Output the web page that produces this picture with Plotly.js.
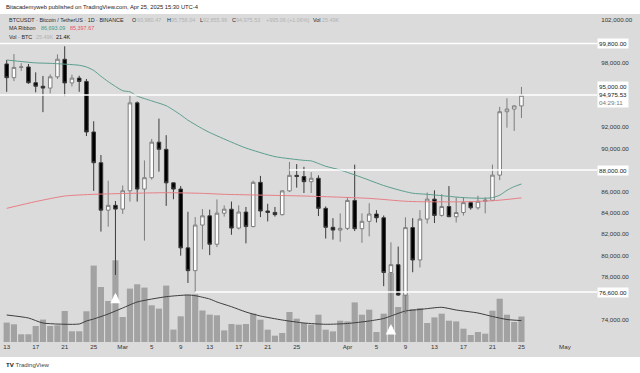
<!DOCTYPE html>
<html><head><meta charset="utf-8">
<script src="https://cdn.plot.ly/plotly-3.0.1.min.js"></script>
<style>html,body{margin:0;padding:0;background:#fff}#c{width:640px;height:373px}</style>
</head><body><div id="c"></div>
<script>
const dates = ["2025-02-13","2025-02-14","2025-02-15","2025-02-16","2025-02-17","2025-02-18","2025-02-19","2025-02-20","2025-02-21","2025-02-22","2025-02-23","2025-02-24","2025-02-25","2025-02-26","2025-02-27","2025-02-28",
"2025-03-01","2025-03-02","2025-03-03","2025-03-04","2025-03-05","2025-03-06","2025-03-07","2025-03-08","2025-03-09","2025-03-10","2025-03-11","2025-03-12","2025-03-13","2025-03-14","2025-03-15","2025-03-16","2025-03-17","2025-03-18","2025-03-19","2025-03-20","2025-03-21","2025-03-22","2025-03-23","2025-03-24","2025-03-25","2025-03-26","2025-03-27","2025-03-28","2025-03-29","2025-03-30","2025-03-31",
"2025-04-01","2025-04-02","2025-04-03","2025-04-04","2025-04-05","2025-04-06","2025-04-07","2025-04-08","2025-04-09","2025-04-10","2025-04-11","2025-04-12","2025-04-13","2025-04-14","2025-04-15","2025-04-16","2025-04-17","2025-04-18","2025-04-19","2025-04-20","2025-04-21","2025-04-22","2025-04-23","2025-04-24","2025-04-25"];

const openP = [97900,96620,97580,97620,96150,95820,95650,96700,98340,96130,96580,96270,91550,88680,84250,84700,
84350,86060,94270,86220,87280,90600,89930,86800,86220,80730,78600,82860,83720,81070,83970,84340,82580,84075,82720,86850,84170,84040,83830,86050,87500,87390,86910,87230,84420,82650,82390,
82550,85160,82520,83210,83890,83540,78430,79160,76320,82620,79600,83420,85280,83760,84590,83640,84030,84950,84470,85080,85180,87520,93440,93690,93980.47];
const highP = [98270,98830,97980,97900,97120,96780,96930,98800,99550,96900,96800,96500,92550,89400,87000,85100,
86550,95000,94400,88900,90900,92800,91250,86850,86500,84100,83600,84350,84300,85250,84700,85050,84700,84550,87000,87450,84850,84550,86100,88750,88550,88300,87800,87500,84600,83500,83950,
85450,88500,83950,84900,84250,83750,81250,80850,83585,83500,84250,85900,86100,85750,86500,85450,85450,85100,85600,85450,88500,93900,94700,94050,95758.04];
const lowP = [95300,96300,97250,96050,95250,93400,95150,96500,94900,95800,95300,91170,86050,82250,82700,78200,
83900,85050,85050,81400,87100,87850,84650,85270,80000,77450,76600,80600,80050,80800,83650,81950,82450,81150,82650,83600,83200,83650,83750,85950,86350,85850,85850,83700,81600,81500,81300,
82400,82300,81200,81800,83100,77150,74500,76240,74600,78450,78900,83000,83050,83650,83600,83100,83750,84300,84300,83950,85100,87050,91950,91650,92855.96];
const closeP = [96620,97580,97620,96150,95820,95650,96700,98340,96130,96580,96270,91550,88680,84250,84700,84350,
86060,94270,86220,87280,90600,89930,86800,86220,80730,78600,82860,83720,81070,83970,84340,82580,84075,82720,86850,84170,84040,83830,86050,87500,87390,86910,87230,84420,82650,82390,82550,
85160,82520,83210,83890,83540,78430,79160,76320,82620,79600,83420,85280,83760,84590,83640,84030,84950,84470,85080,85180,87520,93440,93690,93980.47,94975.53];
// volume, thousands of BTC
const volumeK = [19.4,17.7,7.7,7.7,16,22.4,16,16.7,31,10.7,10.7,30.7,76.4,55,41,81.7,
25,53.4,57.7,54.4,36.7,33.4,56.4,12.4,25.7,47.4,47.7,31.5,27.4,26.7,11.6,18,17.3,18,28.3,22.3,12.3,6.3,9,30,23.3,19,17.3,27.3,12.3,10.6,21.3,
20.6,39.6,27.3,32.3,10,28.3,69,35,47,33,34,19,24.6,28.3,21.3,20.6,13.3,7,10,8.3,31.3,43.3,27.3,20,25.49];

const volMADates = ["2025-02-13","2025-02-16","2025-02-18","2025-02-23","2025-02-24","2025-02-25","2025-02-27","2025-02-28","2025-03-01","2025-03-03","2025-03-07","2025-03-10","2025-03-11","2025-03-13","2025-03-14","2025-03-16","2025-03-18","2025-03-20","2025-03-23","2025-03-26","2025-03-29","2025-04-01","2025-04-04","2025-04-06","2025-04-07","2025-04-09","2025-04-11","2025-04-14","2025-04-16","2025-04-19","2025-04-21","2025-04-23","2025-04-25"];
const volMAK = [27,24,19,18,21,23,28,31,34,40,45.3,47,46.3,43,40,35.3,30,26,22,19,17.7,18.5,21,23.5,26,31,32.5,34.7,32,29,25.5,22.5,21.4];

const maFastDates = ["2025-02-13","2025-02-17","2025-02-19","2025-02-23","2025-02-24","2025-02-25","2025-02-26","2025-02-27","2025-02-28","2025-03-01","2025-03-02","2025-03-03","2025-03-05","2025-03-07","2025-03-09","2025-03-10","2025-03-12","2025-03-13","2025-03-16","2025-03-18","2025-03-22","2025-03-26","2025-03-27","2025-03-29","2025-03-31","2025-04-03","2025-04-06","2025-04-08","2025-04-10","2025-04-12","2025-04-17","2025-04-20","2025-04-21","2025-04-22","2025-04-23","2025-04-24","2025-04-25"];
const maFast = [98270,98000,97960,97780,97620,97300,96750,96250,95800,95400,95300,94900,94450,94000,93150,92650,91850,91500,90600,90050,89250,88900,88850,88350,88000,87300,86550,86150,85830,85730,85420,85360,85420,85650,86100,86450,86693.09];

const maSlowDates = ["2025-02-13","2025-02-17","2025-02-21","2025-02-25","2025-03-02","2025-03-07","2025-03-12","2025-03-15","2025-03-26","2025-04-04","2025-04-09","2025-04-11","2025-04-17","2025-04-21","2025-04-23","2025-04-25"];
const maSlow = [84420,85050,85570,85730,85820,85880,85820,85730,85570,85350,85080,85040,85030,85130,85250,85397.67];

const priceTicks = [74000,78000,80000,82000,84000,86000,90000,92000,98000,102000];
const dateTicks = ["2025-02-13","2025-02-17","2025-02-21","2025-02-25","2025-03-01","2025-03-05","2025-03-09","2025-03-13","2025-03-17","2025-03-21","2025-03-25","2025-04-01","2025-04-05","2025-04-09","2025-04-13","2025-04-17","2025-04-21","2025-04-25","2025-05-01"];
const dateTickText = ["13","17","21","25","Mar","5","9","13","17","21","25","Apr","5","9","13","17","21","25","May"];

const levelLines = [99800, 95000, 88000, 76600];
const levelStarts = ["2025-02-12","2025-02-12","2025-03-24","2025-03-11"];
const arrowDates = ["2025-02-28","2025-04-07"];
const arrowTops = [76550, 73620];

// legend texts: [text, colour, x pixel]
const legendRow1 = [["BTCUSDT · Bitcoin / TetherUS · 1D · BINANCE","#2a2a2a",8],["O","#2a2a2a",131],["93,980.47","#b2b2b2",135.5],
  ["H","#2a2a2a",166],["95,758.04","#b2b2b2",170],["L","#2a2a2a",199],["92,855.96","#b2b2b2",202],
  ["C","#2a2a2a",231],["94,975.53","#b2b2b2",235],["+995.06 (+1.06%)","#b2b2b2",265],["Vol","#2a2a2a",312],["25.49K","#b2b2b2",321]];
const legendRow2 = [["MA Ribbon","#2a2a2a",8],["86,693.09","#3f9a86",40],["85,397.67","#e8505e",69]];
const legendRow3 = [["Vol · BTC","#2a2a2a",8],["25.49K","#b2b2b2",35],["21.4K","#111111",55]];

const FONT = "Liberation Sans, Arial, sans-serif";
const BG = "#dbdbdb";
const PW = 597;
const xStart = "2025-02-12 01:49", xEnd = "2025-05-05 10:05";

const traces = [
  {type:"bar", x:dates, y:volumeK, yaxis:"y", marker:{color:"#a2a2a2", line:{width:0}}, width:0.85*86400000, hoverinfo:"skip"},
  {type:"scatter", mode:"lines", x:volMADates, y:volMAK, yaxis:"y", line:{color:"#3d3d3d", width:1, shape:"spline", smoothing:0.6}, hoverinfo:"skip"},
  {type:"candlestick", x:dates, open:openP, high:highP, low:lowP, close:closeP, yaxis:"y2",
    increasing:{fillcolor:"#ffffff", line:{color:"#7d7d7d", width:1}},
    decreasing:{fillcolor:"#000000", line:{color:"#3a3a3a", width:1}}, whiskerwidth:0, hoverinfo:"skip"},
  {type:"scatter", mode:"lines", x:maFastDates, y:maFast, yaxis:"y2", line:{color:"#5c9e8e", width:1, shape:"spline", smoothing:0.6}, hoverinfo:"skip"},
  {type:"scatter", mode:"lines", x:maSlowDates, y:maSlow, yaxis:"y2", line:{color:"#e87f86", width:1, shape:"spline", smoothing:0.6}, hoverinfo:"skip"}
];

const shapes = [
  {type:"rect", xref:"paper", yref:"paper", x0:-0.02, x1:1.1, y0:1, y1:1.06, fillcolor:"#ffffff", line:{width:0}, layer:"below"},
  {type:"rect", xref:"paper", yref:"paper", x0:-0.02, x1:1.1, y0:-0.11, y1:-0.0457, fillcolor:"#ffffff", line:{width:0}, layer:"below"}
];
levelLines.forEach((v,i)=>{
  shapes.push({type:"line", xref:"x", yref:"y2", x0:levelStarts[i], x1:xEnd, y0:v, y1:v, line:{color:"#ffffff", width:1.5}, layer:"above"});
});

const sp = (c,t)=>`<span style="color:${c}">${t}</span>`;
const annotations = [
  {xref:"paper", yref:"paper", x:4/PW, y:1.0223, xanchor:"left", yanchor:"middle", showarrow:false,
   text:"Bitacademyweb published on TradingView.com, Apr 25, 2025 15:30 UTC-4", font:{family:FONT, size:5.8, color:"#222"}},
  {xref:"paper", yref:"paper", x:4/PW, y:-0.0701, xanchor:"left", yanchor:"middle", showarrow:false,
   text:"<b>TV</b> "+sp("#444","TradingView"), font:{family:FONT, size:6.1, color:"#111"}},
  // right axis boxes
  {xref:"paper", yref:"y2", x:1, y:99800, xanchor:"left", yanchor:"middle", showarrow:false, bgcolor:"#ffffff", borderpad:1,
   text:"99,800.00", font:{family:FONT, size:6.2, color:"#222"}},
  {xref:"paper", yref:"y2", x:1, y:95000, xanchor:"left", yanchor:"middle", yshift:1, showarrow:false, bgcolor:"#ffffff", borderpad:1, align:"left",
   text:"95,000.00<br>94,975.53<br>"+sp("#777","04:29:11"), font:{family:FONT, size:6.2, color:"#222"}},
  {xref:"paper", yref:"y2", x:1, y:88000, xanchor:"left", yanchor:"middle", showarrow:false, bgcolor:"#ffffff", borderpad:1,
   text:"88,000.00", font:{family:FONT, size:6.2, color:"#222"}},
  {xref:"paper", yref:"y2", x:1, y:76600, xanchor:"left", yanchor:"middle", showarrow:false, bgcolor:"#ffffff", borderpad:1,
   text:"76,600.00", font:{family:FONT, size:6.2, color:"#222"}}
];
[[legendRow1,0.9832],[legendRow2,0.9558],[legendRow3,0.9284]].forEach(([row,yy])=>{
  row.forEach(([t,c,px])=>{
    annotations.push({xref:"paper", yref:"paper", x:px/PW, y:yy, xanchor:"left", yanchor:"middle", showarrow:false,
      text:t, font:{family:FONT, size:5.45, color:c}, borderpad:0});
  });
});
arrowDates.forEach((d,i)=>{
  annotations.push({xref:"x", yref:"y2", x:d, y:arrowTops[i], ax:0, ay:11, axref:"pixel", ayref:"pixel",
    showarrow:true, arrowhead:2, arrowsize:0.7, arrowwidth:3, arrowcolor:"#ffffff", text:""});
});

const layout = {
  width:640, height:373, margin:{l:0, r:43, t:14, b:31, pad:0},
  paper_bgcolor:BG, plot_bgcolor:BG, showlegend:false, hovermode:false,
  font:{family:FONT, size:6.2, color:"#333"},
  xaxis:{type:"date", range:[xStart, xEnd], tickvals:dateTicks, ticktext:dateTickText, showgrid:false, zeroline:false, showline:false,
    ticks:"", ticklen:0, tickfont:{family:FONT, size:6.2, color:"#333"}, rangeslider:{visible:false}, fixedrange:true},
  yaxis:{range:[0,328], visible:false, fixedrange:true},
  yaxis2:{overlaying:"y", side:"right", anchor:"x", range:[71940, 102566], tickvals:priceTicks, tickformat:",.2f",
    showgrid:false, zeroline:false, showline:false, ticks:"outside", ticklen:2, tickcolor:"rgba(0,0,0,0)",
    tickfont:{family:FONT, size:6.2, color:"#333"}, fixedrange:true},
  shapes:shapes, annotations:annotations
};
Plotly.newPlot("c", traces, layout, {staticPlot:true, displayModeBar:false});
</script></body></html>
